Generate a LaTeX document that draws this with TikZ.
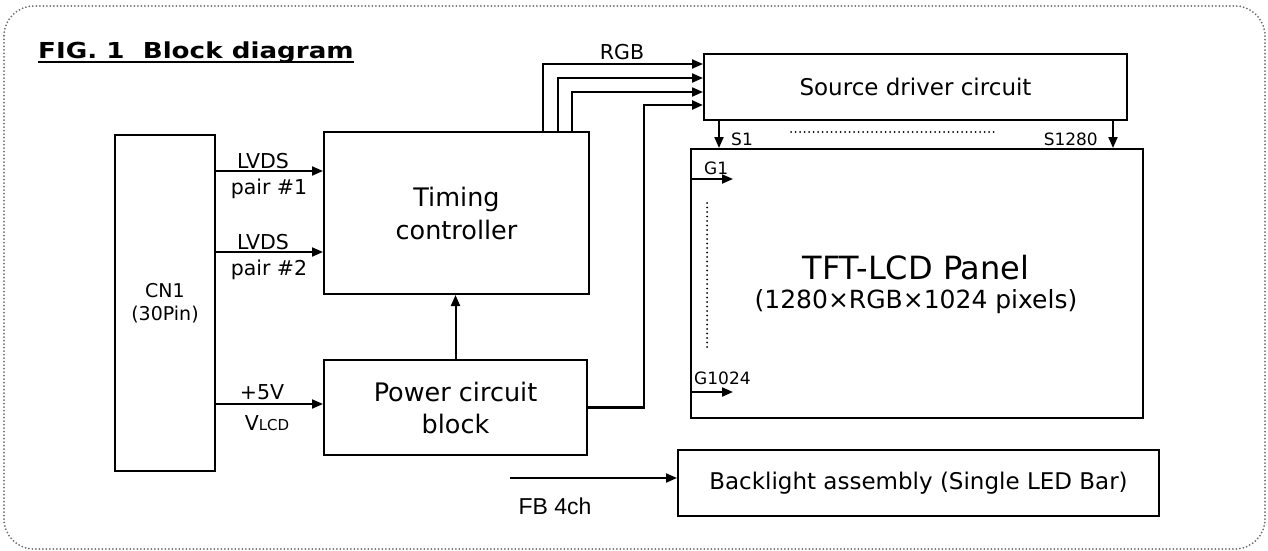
\documentclass[tikz,border=0pt]{standalone}
\usepackage{fontspec}
\setmainfont{DejaVu Sans}
\newfontfamily\arialf{Liberation Sans}
\usetikzlibrary{arrows.meta}
\definecolor{framegray}{HTML}{6E6E6E}
\tikzset{
  box/.style={draw, line width=2pt, inner sep=0pt, anchor=north west, align=center},
  arr/.style={line width=2pt, -{Triangle[length=11pt,width=9pt]}},
  lbl/.style={inner sep=0pt, font=\fontsize{20.5}{24}\selectfont},
  small/.style={inner sep=0pt, font=\fontsize{17}{20}\selectfont},
  frame/.style={draw=framegray, line width=2pt, line cap=round, dash pattern=on 0pt off 3.5pt, rounded corners=30pt},
  dots/.style={line width=2pt, line cap=round, dash pattern=on 0pt off 4.5pt}
}
\begin{document}
\begin{tikzpicture}[x=1pt,y=-1pt]
\useasboundingbox (0,0) rectangle (1268,551);
\draw[frame] (4,6) rectangle (1265,549);

\node[inner sep=0pt, anchor=base west, font=\bfseries\fontsize{22}{26}\selectfont] (title) at (38,59) {\scalebox{1.19}[1]{FIG. 1\ \ Block diagram}};
\draw[line width=2pt] ([yshift=-3pt]title.base west) -- ([yshift=-3pt]title.base east);

\node[box, minimum width=100pt, minimum height=336pt, font=\fontsize{19}{23}\selectfont] (cn1) at (114,134) {CN1\\(30Pin)};
\node[box, minimum width=265pt, minimum height=162pt, font=\fontsize{25.5}{33}\selectfont] (tc) at (323,131) {Timing\\controller};
\node[box, minimum width=263pt, minimum height=95pt, font=\fontsize{25.5}{32}\selectfont] (pw) at (323,359) {Power circuit\\block};
\node[box, minimum width=423pt, minimum height=66pt, font=\fontsize{23}{26}\selectfont] (sd) at (703,53) {Source driver circuit};
\node[box, minimum width=452pt, minimum height=269pt] (panel) at (690,148) {};
\node[box, minimum width=481pt, minimum height=66pt, font=\fontsize{23}{26}\selectfont] (bl) at (677,449) {Backlight assembly (Single LED Bar)};

\node[inner sep=0pt, font=\fontsize{32}{36}\selectfont] (ptitle) at (916,268) {TFT-LCD Panel};
\node[inner sep=0pt, font=\fontsize{25}{28}\selectfont] (psub) at (916,302) {(1280×RGB×1024 pixels)};

% CN1 to timing / power
\draw[arr] (cn1.east |- 0,171) coordinate (l1) -- (tc.west |- l1);
\draw[arr] (cn1.east |- 0,252) coordinate (l2) -- (tc.west |- l2);
\draw[arr] (cn1.east |- 0,404) coordinate (l3) -- (pw.west |- l3);
\node[lbl] (t1a) at (263,161) {LVDS};
\node[lbl] (t1b) at (269,189) {pair \#1};
\node[lbl] (t2a) at (263,242) {LVDS};
\node[lbl] (t2b) at (269,270) {pair \#2};
\node[lbl] (t3a) at (262,392) {+5V};
\node[lbl] (t3b) at (267,423) {V{\fontsize{15}{17}\selectfont LCD}};

% power to timing
\draw[arr] (pw.north) -- (pw.north |- tc.south);

% RGB lines
\draw[arr] ([xshift=86.5pt]tc.north) |- ([yshift=23pt]sd.west);
\draw[arr] ([xshift=101.5pt]tc.north) |- ([yshift=9pt]sd.west);
\draw[arr] ([xshift=115.5pt]tc.north) |- ([yshift=-5pt]sd.west);
\draw[arr, line width=2.4pt] (pw.east) -| (644,200) |- ([yshift=-18pt]sd.west);
\node[lbl] (rgb) at (622,52) {RGB};

% source lines
\draw[arr] ([xshift=16pt]sd.south west) coordinate (s1) -- (s1 |- panel.north);
\draw[arr] ([xshift=-15pt]sd.south east) coordinate (s2) -- (s2 |- panel.north);
\node[small, anchor=west] (s1l) at (731,139) {S1};
\node[small, anchor=east] (s2l) at (1098,139) {S1280};
\draw[dots] (791,132) coordinate (d1) -- (995,132) coordinate (d2);

% gate lines
\draw[arr] ([yshift=104.5pt]panel.west) coordinate (g1) -- ++(43,0) coordinate (g1e);
\draw[arr] ([yshift=-108.5pt]panel.west) coordinate (g2) -- ++(43,0) coordinate (g2e);
\node[small, anchor=west] (g1l) at (704,168) {G1};
\node[small, anchor=west] (g2l) at (694,378) {G1024};
\draw[dots] (707,203) coordinate (d3) -- (707,348) coordinate (d4);

% backlight
\coordinate (fb) at (510,478);
\draw[arr] (fb) -- (bl.west |- fb);
\node[inner sep=0pt, font=\arialf\fontsize{23}{26}\selectfont] (fbl) at (555,506) {FB 4ch};
\end{tikzpicture}
\end{document}
